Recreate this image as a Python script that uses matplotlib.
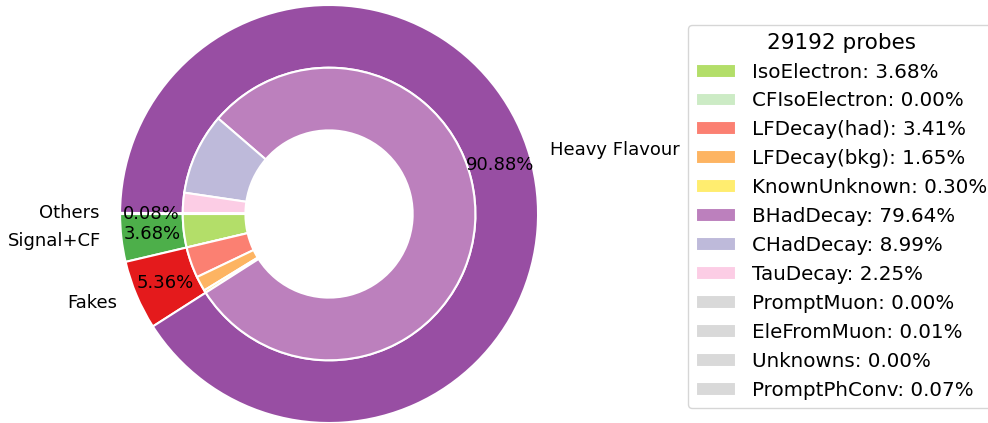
import matplotlib
matplotlib.use("Agg")
import matplotlib.pyplot as plt

n_probes = 29192

# outer ring: grouped origins (percent of probes)
outer_labels = ["Signal+CF", "Fakes", "Heavy Flavour", "Others"]
outer_pct = [3.68, 5.36, 90.88, 0.08]
outer_colors = ["#4daf4a", "#e41a1c", "#984ea3", "#999999"]

# inner ring: detailed truth origins
inner_labels = ["IsoElectron", "CFIsoElectron", "LFDecay(had)", "LFDecay(bkg)",
                "KnownUnknown", "BHadDecay", "CHadDecay", "TauDecay",
                "PromptMuon", "EleFromMuon", "Unknowns", "PromptPhConv"]
inner_pct = [3.68, 0.00, 3.41, 1.65, 0.30, 79.64, 8.99, 2.25, 0.00, 0.01, 0.00, 0.07]
inner_colors = ["#b3de69", "#ccebc5", "#fb8072", "#fdb462", "#ffed6f", "#bc80bd",
                "#bebada", "#fccde5", "#d9d9d9", "#d9d9d9", "#d9d9d9", "#d9d9d9"]

fig = plt.figure(figsize=(9.88, 4.23), dpi=100)
ax = fig.add_axes([0.0686, -0.1235, 0.5289, 1.2352])

wedge_style = dict(width=0.3, edgecolor="w", linewidth=1.5)

ax.pie(outer_pct, labels=outer_labels, colors=outer_colors, radius=1.0,
       startangle=180, autopct="%.2f%%", pctdistance=0.85,
       wedgeprops=wedge_style, textprops=dict(fontsize=13))

inner_wedges, _ = ax.pie(inner_pct, colors=inner_colors, radius=0.7,
                         startangle=180, wedgeprops=wedge_style)

ax.set_xlim(-1.25, 1.25)
ax.set_ylim(-1.25, 1.25)
ax.set_aspect("equal")

legend_labels = ["%s: %.2f%%" % (name, p) for name, p in zip(inner_labels, inner_pct)]
fig.legend(inner_wedges, legend_labels, title="%d probes" % n_probes,
           loc="center left", bbox_to_anchor=(0.6864, 0.489),
           fontsize=14.3, title_fontsize=15.5)

fig.savefig("out.png", dpi=100)
